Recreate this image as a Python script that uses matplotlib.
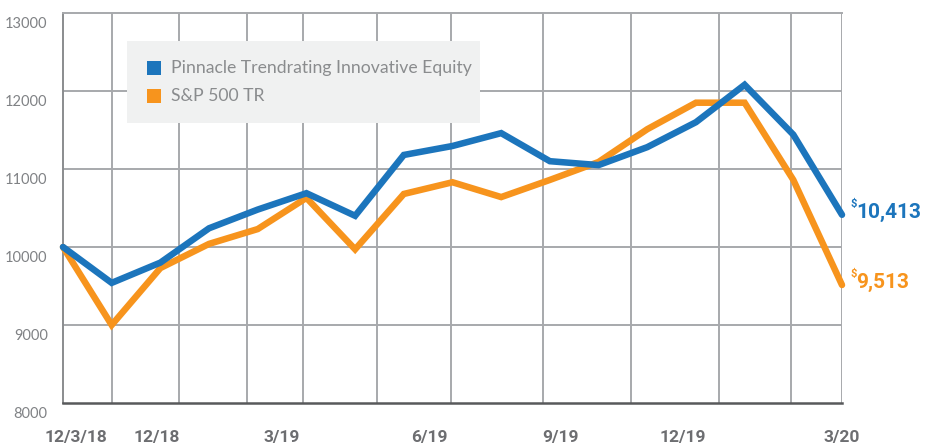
import matplotlib
matplotlib.use("Agg")
import matplotlib.pyplot as plt
from matplotlib.patches import Rectangle

W, H = 931, 445

# monthly growth of $10,000, 12/3/18 .. 3/31/20
months = list(range(17))
pinnacle = [10000, 9540, 9800, 10240, 10480, 10690, 10400, 11180, 11295,
            11460, 11100, 11050, 11280, 11600, 12080, 11440, 10413]
sp500 = [10000, 9000, 9730, 10040, 10230, 10630, 9970, 10680, 10830,
         10640, 10860, 11090, 11510, 11850, 11850, 10860, 9513]
series_names = ["Pinnacle Trendrating Innovative Equity", "S&P 500 TR"]
end_labels = ["10,413", "9,513"]

tick_labels = ["12/3/18", "12/18", "3/19", "6/19", "9/19", "12/19", "3/20"]
tick_pos = [0.27, 1.93, 4.5, 7.52, 10.22, 12.74, 16.0]
grid_x = [1.0, 2.38, 3.78, 4.93, 6.45, 7.97, 9.86, 11.67, 13.47, 14.95, 16.0]
y_ticks = [8000, 9000, 10000, 11000, 12000, 13000]

BLUE = "#1c75bc"
ORANGE = "#f7941d"
GRID = "#a7a9ac"
NARROW = ["Liberation Sans Narrow", "Roboto"]


def fx(px):
    return px / W


def fy(py):
    return 1 - py / H


fig = plt.figure(figsize=(W / 100, H / 100), dpi=100)
ax = fig.add_axes([fx(63), fy(403), fx(842) - fx(63), fy(13) - fy(403)])
ax.set_xlim(0, 16)
ax.set_ylim(8000, 13000)

for x in grid_x:
    ax.axvline(x, color=GRID, lw=1.4, zorder=1)
for y in y_ticks[1:-1]:
    ax.axhline(y, color=GRID, lw=1.4, zorder=1)

ax.spines["right"].set_visible(False)
ax.spines["top"].set_color(GRID)
ax.spines["top"].set_linewidth(1.4)
ax.spines["left"].set_color("#8a8c8e")
ax.spines["left"].set_linewidth(1.4)
ax.spines["bottom"].set_color("#58595b")
ax.spines["bottom"].set_linewidth(1.8)

ax.set_xticks([])
ax.set_yticks([])

# y labels sit a little below their gridlines
for y in y_ticks:
    ax.annotate(str(y), xy=(0, y), xycoords=("axes fraction", "data"),
                xytext=(-11, -8), textcoords="offset points",
                ha="right", va="center", fontsize=10.5, color="#808285",
                family="Lato")

for lab, x in zip(tick_labels, tick_pos):
    ax.annotate(lab, xy=(x, 0), xycoords=("data", "axes fraction"),
                xytext=(0, -25), textcoords="offset points",
                ha="center", va="center", fontsize=12.5, fontweight="bold",
                color="#6d6e71", family=NARROW)

ax.plot(months, sp500, color=ORANGE, lw=4.7, zorder=3, clip_on=False,
        solid_joinstyle="miter", solid_capstyle="round")
ax.plot(months, pinnacle, color=BLUE, lw=4.7, zorder=4, clip_on=False,
        solid_joinstyle="miter", solid_capstyle="round")

# end value labels
for vals, lab, col in [(pinnacle, end_labels[0], BLUE), (sp500, end_labels[1], ORANGE)]:
    ax.annotate("$", xy=(16, vals[-1]), xytext=(6, 8), textcoords="offset points",
                ha="left", va="center", fontsize=8, fontweight="bold",
                color=col, family=NARROW, annotation_clip=False)
    ax.annotate(lab, xy=(16, vals[-1]), xytext=(10, 2), textcoords="offset points",
                ha="left", va="center", fontsize=15, fontweight="bold",
                color=col, family=NARROW, annotation_clip=False)

# legend box
fig.patches.append(Rectangle((fx(127), fy(123)), fx(480) - fx(127), fy(41) - fy(123),
                             transform=fig.transFigure, facecolor="#f0f1f1",
                             edgecolor="none", zorder=5))
for i, (name, col) in enumerate(zip(series_names, [BLUE, ORANGE])):
    top = 61 + i * 28
    fig.patches.append(Rectangle((fx(147), fy(top + 14)), fx(14), 14 / H,
                                 transform=fig.transFigure, facecolor=col,
                                 edgecolor="none", zorder=6))
    fig.text(fx(171), fy(top + 7), name, ha="left", va="center",
             fontsize=12.7, color="#8a8c8e", family="Lato", zorder=6)

fig.savefig("out.png", dpi=100)
